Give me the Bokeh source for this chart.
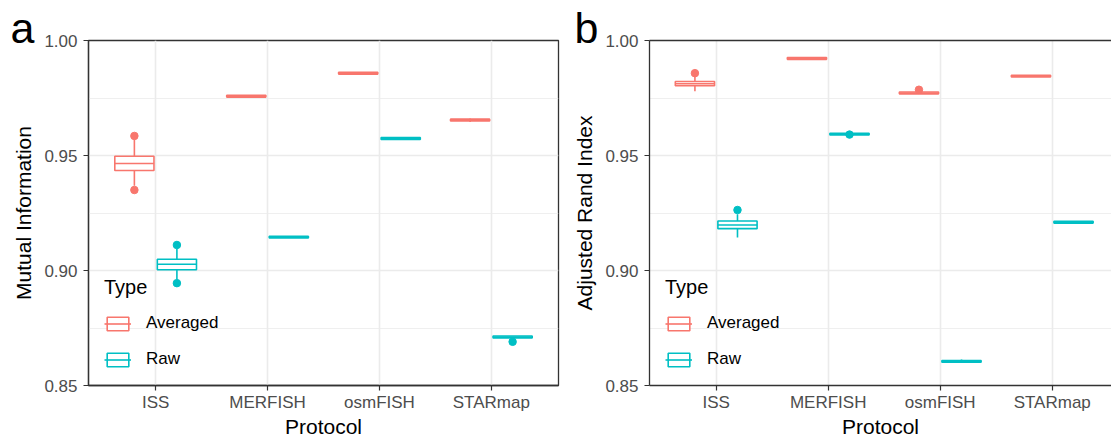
from bokeh.plotting import figure
from bokeh.models import (Range1d, FixedTicker, Title, Legend, LegendItem,
                          LinearAxis, ColumnDataSource, NumeralTickFormatter)
from bokeh.layouts import row
from bokeh.embed import file_html
from bokeh.resources import INLINE

# ---------------- data ----------------
protocols = ["ISS", "MERFISH", "osmFISH", "STARmap"]
types = ["Averaged", "Raw"]
y_ticks = [0.85, 0.90, 0.95, 1.00]
y_minor = [0.875, 0.925, 0.975]

# Mutual Information – Averaged
mi_avg_lo = [0.9368, 0.9754, 0.9854, 0.9646]
mi_avg_q1 = [0.9435, 0.9754, 0.9854, 0.9650]
mi_avg_med = [0.9465, 0.9758, 0.9858, 0.9654]
mi_avg_q3 = [0.9497, 0.9762, 0.9862, 0.9658]
mi_avg_hi = [0.9570, 0.9762, 0.9862, 0.9661]
mi_avg_out_protocol = ["ISS", "ISS"]
mi_avg_out_value = [0.9585, 0.9350]

# Mutual Information – Raw
mi_raw_lo = [0.8962, 0.9141, 0.9570, 0.8705]
mi_raw_q1 = [0.9003, 0.9141, 0.9570, 0.8707]
mi_raw_med = [0.9027, 0.9145, 0.9574, 0.8711]
mi_raw_q3 = [0.9049, 0.9149, 0.9578, 0.8715]
mi_raw_hi = [0.9094, 0.9149, 0.9578, 0.8715]
mi_raw_out_protocol = ["ISS", "ISS", "STARmap"]
mi_raw_out_value = [0.9111, 0.8945, 0.8690]

# Adjusted Rand Index – Averaged
ari_avg_lo = [0.9779, 0.9918, 0.9768, 0.9841]
ari_avg_q1 = [0.9803, 0.9918, 0.9768, 0.9841]
ari_avg_med = [0.9812, 0.9922, 0.9772, 0.9845]
ari_avg_q3 = [0.9822, 0.9926, 0.9776, 0.9849]
ari_avg_hi = [0.9843, 0.9926, 0.9777, 0.9849]
ari_avg_out_protocol = ["ISS", "osmFISH"]
ari_avg_out_value = [0.9858, 0.9786]

# Adjusted Rand Index – Raw
ari_raw_lo = [0.9143, 0.9589, 0.8598, 0.9206]
ari_raw_q1 = [0.9182, 0.9589, 0.8601, 0.9206]
ari_raw_med = [0.9198, 0.9593, 0.8605, 0.9210]
ari_raw_q3 = [0.9215, 0.9597, 0.8609, 0.9214]
ari_raw_hi = [0.9245, 0.9597, 0.8613, 0.9214]
ari_raw_out_protocol = ["ISS", "MERFISH"]
ari_raw_out_value = [0.9263, 0.9591]

# ---------------- style ----------------
FONT = "Liberation Sans"
COLORS = {"Averaged": "#F8766D", "Raw": "#00BFC4"}
OFFSETS = {"Averaged": -0.19, "Raw": 0.19}
HALF_W = 0.175
DARK = "#333333"
GRID = "#EBEBEB"


def add_series(p, lo, q1, med, q3, hi, out_p, out_v, kind):
    color = COLORS[kind]
    off = OFFSETS[kind]
    xs = [i + 1 + off for i in range(len(protocols))]
    src = ColumnDataSource(dict(
        x=xs, left=[x - HALF_W for x in xs], right=[x + HALF_W for x in xs],
        lo=lo, q1=q1, med=med, q3=q3, hi=hi))
    p.segment(x0="x", y0="q3", x1="x", y1="hi", source=src,
              line_color=color, line_width=1.6)
    p.segment(x0="x", y0="q1", x1="x", y1="lo", source=src,
              line_color=color, line_width=1.6)
    box = p.quad(left="left", right="right", bottom="q1", top="q3", source=src,
                 fill_color="white", line_color=color, line_width=1.6)
    medr = p.segment(x0="left", y0="med", x1="right", y1="med", source=src,
                     line_color=color, line_width=1.6)
    ox = [protocols.index(n) + 1 + off for n in out_p]
    p.scatter(ox, out_v, size=7.5, color=color)
    return box, medr


def make_panel(series, ylabel, letter, letter_offset, width, border_left,
               border_right, x_start, x_end, full_outline):
    letter_title = Title(text=letter, align="left", offset=letter_offset,
                         standoff=-22, vertical_align="bottom",
                         text_font=FONT, text_font_size="43px",
                         text_font_style="normal", text_color="black")
    p = figure(width=width, height=440, output_backend="svg",
               toolbar_location=None, title=letter_title,
               x_range=Range1d(x_start, x_end), y_range=Range1d(0.85, 1.0),
               min_border_left=border_left, min_border_right=border_right,
               min_border_top=40, min_border_bottom=53)
    p.background_fill_color = "white"
    p.border_fill_color = "white"

    xax = p.below[0]
    yax = p.left[0]
    xax.ticker = FixedTicker(ticks=[1, 2, 3, 4])
    xax.major_label_overrides = {i + 1: n for i, n in enumerate(protocols)}
    yax.ticker = FixedTicker(ticks=y_ticks, minor_ticks=y_minor)
    yax.formatter = NumeralTickFormatter(format="0.00")

    for ax in (xax, yax):
        ax.axis_line_color = DARK
        ax.axis_line_width = 1.3
        ax.major_tick_line_color = DARK
        ax.major_tick_line_width = 1.2
        ax.major_tick_out = 5
        ax.major_tick_in = 0
        ax.minor_tick_line_color = None
        ax.major_label_text_font = FONT
        ax.major_label_text_font_size = "17px"
        ax.major_label_text_color = "#4D4D4D"
        ax.axis_label_text_font = FONT
        ax.axis_label_text_font_size = "21px"
        ax.axis_label_text_font_style = "normal"
        ax.axis_label_text_color = "black"
    yax.major_label_standoff = 6
    yax.axis_label_standoff = 6
    xax.major_label_standoff = 2
    xax.axis_label_standoff = 0
    xax.axis_label = "Protocol"
    yax.axis_label = ylabel

    if full_outline:
        p.outline_line_color = DARK
        p.outline_line_width = 1.3
        p.outline_line_alpha = 1.0
    else:
        # panel is cut at the right edge: only the top border line is drawn
        p.outline_line_color = None
        top = LinearAxis(ticker=FixedTicker(ticks=[]))
        top.axis_line_color = DARK
        top.axis_line_width = 1.3
        top.major_tick_line_color = None
        top.minor_tick_line_color = None
        top.major_label_text_font_size = "0px"
        top.major_tick_out = 0
        top.major_tick_in = 0
        top.major_label_standoff = 0
        p.add_layout(top, "above")

    p.xgrid.grid_line_color = GRID
    p.xgrid.grid_line_width = 1.6
    p.ygrid.grid_line_color = GRID
    p.ygrid.grid_line_width = 1.6
    p.ygrid.minor_grid_line_color = GRID
    p.ygrid.minor_grid_line_width = 0.8

    rends = {}
    for kind in types:
        rends[kind] = add_series(p, *series[kind], kind)

    legend = Legend(
        items=[LegendItem(label=k, renderers=list(rends[k])) for k in types],
        location=(16, 16), title="Type",
        title_text_font=FONT, title_text_font_size="20px",
        title_text_font_style="normal", title_text_color="black",
        title_standoff=14,
        label_text_font=FONT, label_text_font_size="17px",
        label_text_color="black", label_standoff=15, label_height=17,
        glyph_width=27, glyph_height=17, spacing=16,
        padding=6, margin=0, border_line_color=None,
        background_fill_alpha=0.0)
    p.add_layout(legend)
    return p


mi_series = {
    "Averaged": (mi_avg_lo, mi_avg_q1, mi_avg_med, mi_avg_q3, mi_avg_hi,
                 mi_avg_out_protocol, mi_avg_out_value),
    "Raw": (mi_raw_lo, mi_raw_q1, mi_raw_med, mi_raw_q3, mi_raw_hi,
            mi_raw_out_protocol, mi_raw_out_value),
}
ari_series = {
    "Averaged": (ari_avg_lo, ari_avg_q1, ari_avg_med, ari_avg_q3, ari_avg_hi,
                 ari_avg_out_protocol, ari_avg_out_value),
    "Raw": (ari_raw_lo, ari_raw_q1, ari_raw_med, ari_raw_q3, ari_raw_hi,
            ari_raw_out_protocol, ari_raw_out_value),
}

p1 = make_panel(mi_series, "Mutual Information", "a", -78, 570, 88, 12,
                0.4, 4.6, True)
p2 = make_panel(ari_series, "Adjusted Rand Index", "b", -75, 541, 79, 0,
                0.4045, 4.529, False)

layout = row(p1, p2)
open("out.html", "w").write(file_html(layout, INLINE))
